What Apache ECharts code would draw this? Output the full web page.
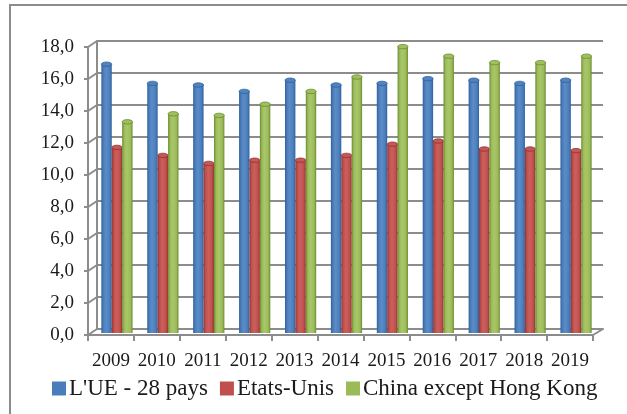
<!DOCTYPE html>
<html>
<head>
<meta charset="utf-8">
<title>Chart</title>
<script src="https://cdn.jsdelivr.net/npm/echarts@6/dist/echarts.min.js"></script>
<style>
  html, body { margin: 0; padding: 0; background: #fff; }
  #chart { width: 627px; height: 414px; }
</style>
</head>
<body>
<div id="chart"></div>
<script>
// Years on the category axis
const years = ['2009', '2010', '2011', '2012', '2013', '2014', '2015', '2016', '2017', '2018', '2019'];

// Series values
const ue28 = [16.8, 15.6, 15.5, 15.1, 15.8, 15.5, 15.6, 15.9, 15.8, 15.6, 15.8];
const etatsUnis = [11.6, 11.1, 10.6, 10.8, 10.8, 11.1, 11.8, 12.0, 11.5, 11.5, 11.4];
const china = [13.2, 13.7, 13.6, 14.3, 15.1, 16.0, 17.9, 17.3, 16.9, 16.9, 17.3];

const seriesNames = ["L'UE - 28 pays", 'Etats-Unis', 'China except Hong Kong'];

// Value axis ticks
const yMin = 0, yMax = 18, yStep = 2;

const FONT = '"Liberation Serif", "DejaVu Serif", serif';

// cylinder shading per series: [edge, mid, highlight, cap]
const palettes = [
  ['#30609b', '#4a7ebb', '#5b8cc8', '#4f83c1'],
  ['#8f3431', '#c0504d', '#cc5f5c', '#c75754'],
  ['#6a8a30', '#9bbb59', '#a9c76a', '#a0c05e']
];

function cylinderFill(p) {
  return new echarts.graphic.LinearGradient(0, 0, 1, 0, [
    { offset: 0, color: p[0] },
    { offset: 0.2, color: p[1] },
    { offset: 0.45, color: p[2] },
    { offset: 0.8, color: p[1] },
    { offset: 1, color: p[0] }
  ]);
}

function makeRender(sIdx) {
  return function (params, api) {
    const cat = api.value(0);
    const val = api.value(1);
    const top = api.coord([cat, val]);
    const base = api.coord([cat, 0]);
    const bw = api.size([1, 0])[0] * 0.68 / 3;
    const x = top[0] + (sIdx - 1.5) * bw;
    const p = palettes[sIdx];
    return {
      type: 'group',
      children: [
        {
          type: 'rect',
          shape: { x: x, y: top[1], width: bw, height: base[1] - top[1] },
          style: { fill: cylinderFill(p) }
        },
        {
          type: 'ellipse',
          shape: { cx: x + bw / 2, cy: top[1], rx: bw / 2, ry: 2.2 },
          style: { fill: p[3], stroke: p[0], lineWidth: 0.8 }
        }
      ]
    };
  };
}

const valueSets = [ue28, etatsUnis, china];

const chart = echarts.init(document.getElementById('chart'), null, { renderer: 'canvas' });

const option = {
  animation: false,
  backgroundColor: '#fff',
  textStyle: { fontFamily: FONT },
  legend: {
    left: 47,
    top: 372,
    itemWidth: 14,
    itemHeight: 14,
    itemGap: 12,
    icon: 'rect',
    textStyle: { fontFamily: FONT, fontSize: 23, color: '#1a1a1a', padding: [0, 0, 0, -2] },
    data: seriesNames
  },
  grid: [
    // front axes
    { left: 88, top: 47, width: 505, height: 288 },
    // back wall
    { left: 97, top: 41, width: 506, height: 288 },
    // bars
    { left: 94, top: 45, width: 505, height: 288 }
  ],
  xAxis: [
    {
      gridIndex: 0, type: 'category', data: years, boundaryGap: true,
      axisLine: { show: true, lineStyle: { color: '#8c8c8c', width: 2 } },
      axisTick: { show: true, length: 6, interval: 0, lineStyle: { color: '#8c8c8c', width: 2 } },
      axisLabel: { interval: 0, hideOverlap: false, fontFamily: FONT, fontSize: 19, color: '#1a1a1a', margin: 17 },
      splitLine: { show: false }
    },
    {
      gridIndex: 1, type: 'category', data: years, boundaryGap: true,
      axisLine: { show: true, lineStyle: { color: '#8c8c8c', width: 2 } },
      axisTick: { show: false }, axisLabel: { show: false }, splitLine: { show: false }
    },
    {
      gridIndex: 2, type: 'category', data: years, boundaryGap: true,
      axisLine: { show: false }, axisTick: { show: false }, axisLabel: { show: false }
    }
  ],
  yAxis: [
    {
      gridIndex: 0, type: 'value', min: yMin, max: yMax, interval: yStep,
      axisLine: { show: true, lineStyle: { color: '#8c8c8c', width: 2 } },
      axisTick: { show: true, length: 4, lineStyle: { color: '#8c8c8c', width: 2 } },
      axisLabel: {
        fontFamily: FONT, fontSize: 19, color: '#1a1a1a', margin: 14,
        formatter: v => v.toFixed(1).replace('.', ',')
      },
      splitLine: { show: false }
    },
    {
      gridIndex: 1, type: 'value', min: yMin, max: yMax, interval: yStep,
      axisLine: { show: true, lineStyle: { color: '#8c8c8c', width: 2 } },
      axisTick: { show: false }, axisLabel: { show: false },
      splitLine: { show: true, lineStyle: { color: '#8c8c8c', width: 2 } }
    },
    {
      gridIndex: 2, type: 'value', min: yMin, max: yMax, interval: yStep,
      axisLine: { show: false }, axisTick: { show: false }, axisLabel: { show: false },
      splitLine: { show: false }
    }
  ],
  series: valueSets.map((vals, s) => ({
    name: seriesNames[s],
    type: 'custom',
    xAxisIndex: 2,
    yAxisIndex: 2,
    itemStyle: { color: palettes[s][1] },
    renderItem: makeRender(s),
    encode: { x: 0, y: 1 },
    data: vals.map((v, i) => [i, v])
  }))
};

chart.setOption(option);

// side wall and floor edges joining the front axes to the back wall
const edges = [];
const edgeStyle = { stroke: '#8c8c8c', lineWidth: 2 };
for (let v = yMin; v <= yMax; v += yStep) {
  const f = chart.convertToPixel({ yAxisIndex: 0 }, v);
  const b = chart.convertToPixel({ yAxisIndex: 1 }, v);
  edges.push({
    type: 'line',
    shape: { x1: 88, y1: f, x2: 97, y2: b },
    style: edgeStyle, silent: true
  });
}
// right floor corner
const fr = chart.convertToPixel({ yAxisIndex: 0 }, 0);
const br = chart.convertToPixel({ yAxisIndex: 1 }, 0);
edges.push({
  type: 'line',
  shape: { x1: 593, y1: fr, x2: 603, y2: br },
  style: edgeStyle, silent: true
});
// outer chart border
edges.push({
  type: 'rect',
  shape: { x: 10, y: 5, width: 640, height: 430 },
  style: { fill: 'none', stroke: '#8c8c8c', lineWidth: 2 },
  silent: true, z: -1
});
chart.setOption({ graphic: edges });
</script>
</body>
</html>
